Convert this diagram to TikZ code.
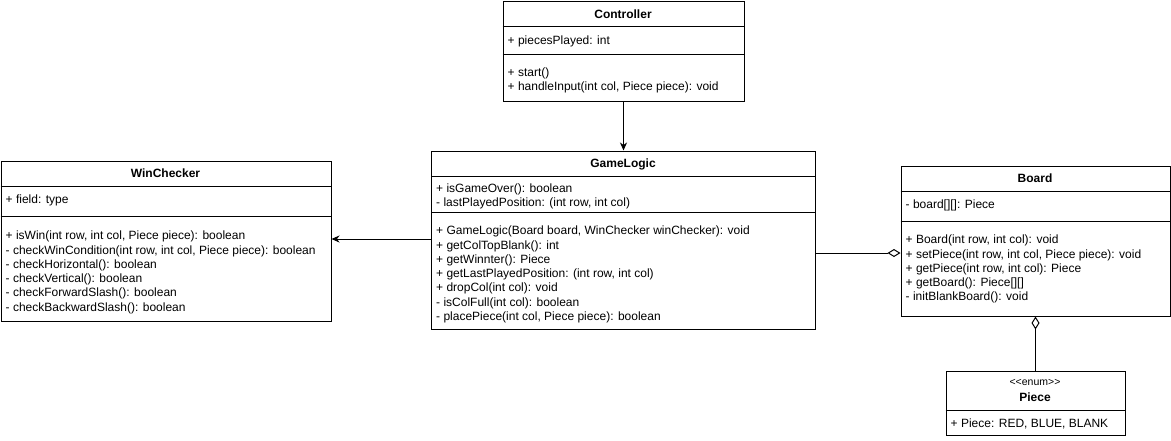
\documentclass[tikz,border=0pt]{standalone}
\usepackage{fontspec}
\setmainfont{Liberation Sans}
\usetikzlibrary{arrows.meta,calc}

\tikzset{
  classbox/.style={draw, line width=1pt, anchor=north west, inner sep=0pt,
    minimum width=#1},
  title/.style={anchor=base, inner sep=0pt, font=\fontsize{12}{14.3}\selectfont\bfseries},
  stereo/.style={anchor=base, inner sep=0pt, font=\fontsize{10.5}{12}\selectfont},
  members/.style={anchor=north west, inner sep=0pt, align=left,
    font=\fontsize{12}{14.3}\selectfont},
  divider/.style={line width=1pt},
  assoc/.style={line width=1pt, -{Stealth[length=8pt,width=7pt,inset=2.5pt]}},
  aggr/.style={line width=1pt, -{Diamond[open,length=13pt,width=8pt]}},
}

\begin{document}
\begin{tikzpicture}[x=1pt,y=-1pt]
\useasboundingbox (0,0) rectangle (1171,440);

% ---------------- Controller ----------------
\node[classbox=241pt, minimum height=100pt] (ctrl) at (502.5,0.5) {};
\draw[divider] (ctrl.west |- 0,26) -- (ctrl.east |- 0,26);
\draw[divider] (ctrl.west |- 0,54) -- (ctrl.east |- 0,54);
\node[title] (ctrlT) at (623,18) {Controller};
\node[members] (ctrlA) at (507.5,34) {\strut+ piecesPlayed: int};
\node[members] (ctrlM) at (507.5,66) {\strut+ start()\\+ handleInput(int col, Piece piece): void};

% ---------------- GameLogic ----------------
\node[classbox=384pt, minimum height=178pt] (logic) at (431,150.5) {};
\draw[divider] (logic.west |- 0,176.5) -- (logic.east |- 0,176.5);
\draw[divider] (logic.west |- 0,212.5) -- (logic.east |- 0,212.5);
\node[title] (logicT) at (623,167.5) {GameLogic};
\node[members] (logicA) at (436,182) {\strut+ isGameOver(): boolean\\- lastPlayedPosition: (int row, int col)};
\node[members] (logicM) at (436,224.5) {\strut+ GameLogic(Board board, WinChecker winChecker): void\\
+ getColTopBlank(): int\\
+ getWinnter(): Piece\\
+ getLastPlayedPosition: (int row, int col)\\
+ dropCol(int col): void\\
- isColFull(int col): boolean\\
- placePiece(int col, Piece piece): boolean};

% ---------------- WinChecker ----------------
\node[classbox=330pt, minimum height=160pt] (win) at (0.5,160.5) {};
\draw[divider] (win.west |- 0,186.5) -- (win.east |- 0,186.5);
\draw[divider] (win.west |- 0,216.5) -- (win.east |- 0,216.5);
\node[title] (winT) at (165.5,177.5) {WinChecker};
\node[members] (winA) at (5.5,193.5) {\strut+ field: type};
\node[members] (winM) at (5.5,229.5) {\strut+ isWin(int row, int col, Piece piece): boolean\\
- checkWinCondition(int row, int col, Piece piece): boolean\\
- checkHorizontal(): boolean\\
- checkVertical(): boolean\\
- checkForwardSlash(): boolean\\
- checkBackwardSlash(): boolean};

% ---------------- Board ----------------
\node[classbox=269pt, minimum height=150pt] (board) at (900.5,165.5) {};
\draw[divider] (board.west |- 0,191.5) -- (board.east |- 0,191.5);
\draw[divider] (board.west |- 0,221) -- (board.east |- 0,221);
\node[title] (boardT) at (1035,182.5) {Board};
\node[members] (boardA) at (905.5,198.5) {\strut- board[][]: Piece};
\node[members] (boardM) at (905.5,233.5) {\strut+ Board(int row, int col): void\\
+ setPiece(int row, int col, Piece piece): void\\
+ getPiece(int row, int col): Piece\\
+ getBoard(): Piece[][]\\
- initBlankBoard(): void};

% ---------------- Piece (enum) ----------------
\node[classbox=179pt, minimum height=64pt] (piece) at (945.5,370.5) {};
\draw[divider] (piece.west |- 0,410) -- (piece.east |- 0,410);
% kerns keep the angle brackets from merging into guillemets
\node[stereo] (pieceS) at (1035,385.5) {<\kern0pt<enum>\kern0pt>};
\node[title] (pieceT) at (1035,401.5) {Piece};
\node[members] (pieceA) at (950.5,417.5) {\strut+ Piece: RED, BLUE, BLANK};

% ---------------- Relations ----------------
\draw[assoc] (ctrl.south) -- (logic.north);
\draw[assoc] ([yshift=1pt]logic.west) -- ([yshift=1pt]logic.west -| win.east);
\coordinate (aggStart) at ([yshift=-13pt]logic.east);
\draw[aggr] (aggStart) -- (aggStart -| board.west);
\draw[aggr] (piece.north) -- (board.south);

\end{tikzpicture}
\end{document}
